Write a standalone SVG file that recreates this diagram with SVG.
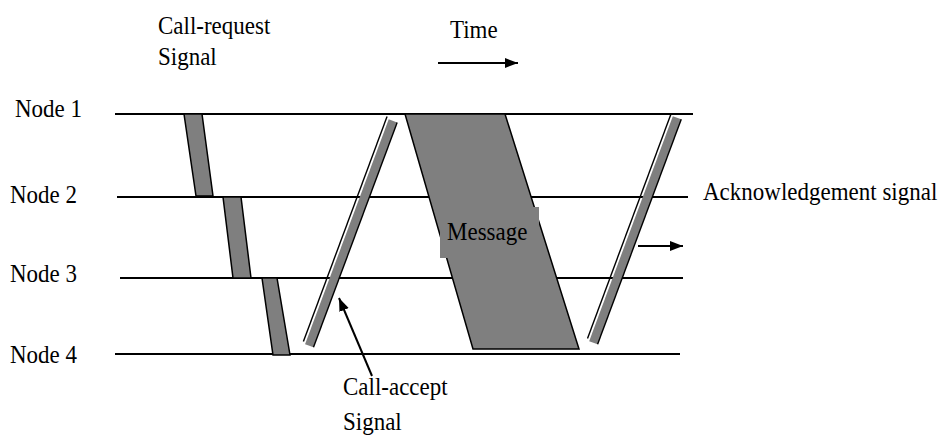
<svg xmlns="http://www.w3.org/2000/svg" width="942" height="435" viewBox="0 0 942 435">
<style>
.t{font-family:"Liberation Serif","Times New Roman",serif;font-size:23px;fill:#000}
.ln{stroke:#000;stroke-width:2;fill:none}
.bar{fill:#7f7f7f;stroke:#000;stroke-width:1.5}
.gb{fill:#7f7f7f}
.edge{stroke:#000;stroke-width:1.4}
.arr{stroke:#000;stroke-width:2;fill:none;marker-end:url(#ah)}
</style>
<defs>
<marker id="ah" markerUnits="userSpaceOnUse" markerWidth="14" markerHeight="12" refX="13" refY="6" orient="auto">
<path d="M0,1 L13,6 L0,11 Z" fill="#000"/>
</marker>
</defs>
<rect width="942" height="435" fill="#fff"/>
<g id="labels">
<text class="t" transform="translate(158,33.5) scale(1,1.12)">Call-request</text>
<text class="t" transform="translate(158,65) scale(1,1.12)">Signal</text>
<text class="t" transform="translate(450,38) scale(1,1.12)">Time</text>
<text class="t" transform="translate(703,200) scale(1,1.12)">Acknowledgement signal</text>
<text class="t" transform="translate(343,395) scale(1,1.12)">Call-accept</text>
<text class="t" transform="translate(343,430) scale(1,1.12)">Signal</text>
</g>
<g id="node1">
<text class="t" transform="translate(15,117) scale(1,1.12)">Node 1</text>
<line class="ln" x1="115" y1="114" x2="693" y2="114"/>
</g>
<g id="node2">
<text class="t" transform="translate(10,203) scale(1,1.12)">Node 2</text>
<line class="ln" x1="117" y1="197" x2="688" y2="197"/>
</g>
<g id="node3">
<text class="t" transform="translate(10,282) scale(1,1.12)">Node 3</text>
<line class="ln" x1="120" y1="278" x2="683" y2="278"/>
</g>
<g id="node4">
<text class="t" transform="translate(10,363) scale(1,1.12)">Node 4</text>
<line class="ln" x1="115" y1="354" x2="680" y2="354"/>
</g>
<g id="call-request">
<polygon class="bar" points="184,114 202,114 213,196 196,196"/>
<polygon class="bar" points="223,197 241,197 251,278 233,278"/>
<polygon class="bar" points="262,278 277,278 290,355 273,355"/>
</g>
<g id="call-accept" transform="translate(349.7,232.8) rotate(20.4)">
<rect class="gb" x="-3" y="-120" width="9" height="240"/>
<line class="edge" x1="6" y1="-120" x2="6" y2="120"/>
<line class="edge" x1="-5.5" y1="-122" x2="-5.5" y2="118"/>
</g>
<g id="message">
<polygon class="bar" points="405,114 505,114 579,349 473,349"/>
<rect class="gb" x="440" y="207" width="99" height="51"/>
<text class="t" transform="translate(447,240) scale(1,1.12)">Message</text>
</g>
<g id="acknowledgement" transform="translate(633.8,229.7) rotate(20.4)">
<rect class="gb" x="-3" y="-120" width="9" height="240"/>
<line class="edge" x1="6" y1="-120" x2="6" y2="120"/>
<line class="edge" x1="-5.5" y1="-122" x2="-5.5" y2="118"/>
</g>
<g id="connectors">
<line class="arr" x1="438" y1="63" x2="518" y2="63"/>
<line class="arr" x1="638" y1="246" x2="683" y2="246"/>
<line class="arr" x1="372" y1="376" x2="339" y2="298"/>
</g>
</svg>
